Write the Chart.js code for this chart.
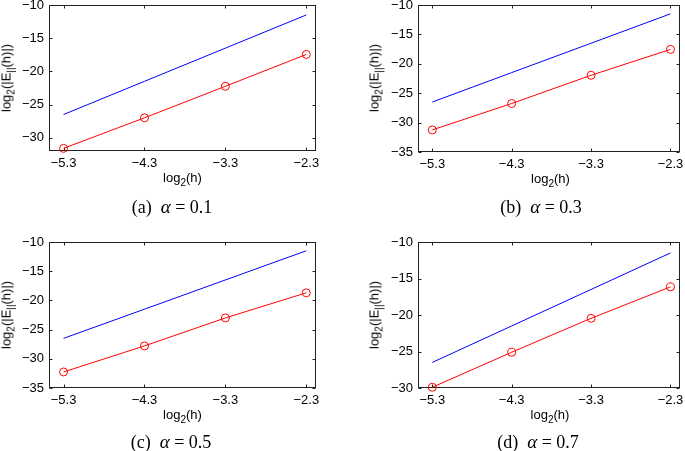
<!DOCTYPE html>
<html lang="en">
<head>
    <meta charset="UTF-8">
    <title>Convergence plots</title>
    <script src="https://cdn.jsdelivr.net/npm/chart.js"></script>
    <style>
        body {
            margin: 0;
            background: #fff;
            font-family: 'Liberation Sans', Arial, sans-serif;
        }
        #wrap {
            position: relative;
            width: 685px;
            height: 451px;
            overflow: hidden;
        }
        canvas {
            position: absolute;
        }
        .xlab, .ylab, .cap {
            position: absolute;
            white-space: nowrap;
            color: #000;
            line-height: 1;
        }
        .xlab, .ylab {
            font-size: 13px;
            transform: translate(-50%, -50%);
        }
        .ylab {
            transform: translate(-50%, -50%) rotate(-90deg);
        }
        .xlab sub, .ylab sub {
            font-size: 10px;
            vertical-align: -4px;
        }
        .cap {
            font-family: 'Liberation Serif', 'Times New Roman', serif;
            font-size: 18px;
            transform: translate(-50%, -50%);
        }
        .cap i {
            font-size: 19px;
        }
    </style>
</head>
<body>
<div id="wrap"></div>

<script>
    // x positions (log2 h) and tick labels
    const hLog = [-5.3, -4.3, -3.3, -2.3];
    const xTicks = [-5.3, -4.3, -3.3, -2.3];
    const xMin = -5.48;
    const xMax = -2.18;

    // reference slope line (blue)
    const refLine = [-26.5, -21.5, -16.5, -11.5];

    // log2 error for each alpha (red circles)
    const errA = [-31.6, -27.0, -22.25, -17.45];
    const errB = [-31.25, -26.75, -21.95, -17.55];
    const errC = [-32.25, -27.8, -23.0, -18.7];
    const errD = [-29.9, -25.1, -20.45, -16.15];

    const alphas = ['0.1', '0.3', '0.5', '0.7'];
    const letters = ['a', 'b', 'c', 'd'];
    const yRanges = [[-32, -10], [-35, -10], [-35, -10], [-30, -10]];

    // panel layout: canvas origin and plot box inside it
    const panels = [
        { err: errA, cx: 0,   cy: 0,   box: [49, 4, 316, 151],  capX: 172, capY: 206 },
        { err: errB, cx: 345, cy: 0,   box: [73, 4, 338, 152],  capX: 541, capY: 206 },
        { err: errC, cx: 0,   cy: 225, box: [49, 17, 316, 163], capX: 171, capY: 441 },
        { err: errD, cx: 345, cy: 225, box: [73, 17, 337, 163], capX: 538, capY: 441 }
    ];

    const W = 340, H = 190;
    const wrap = document.getElementById('wrap');
    const tickFont = { family: "'Liberation Sans', Arial, sans-serif", size: 13 };

    // box around plot area + small inward ticks (matlab style)
    const boxPlugin = {
        id: 'boxTicks',
        beforeDatasetsDraw(chart) {
            const ctx = chart.ctx;
            const a = chart.chartArea;
            const xs = chart.scales.x, ys = chart.scales.y;
            const L = Math.round(a.left) + 0.5, R = Math.round(a.right) - 0.5;
            const T = Math.round(a.top) + 0.5, B = Math.round(a.bottom) - 0.5;
            ctx.save();
            ctx.strokeStyle = '#222';
            ctx.lineWidth = 1;
            ctx.strokeRect(L, T, R - L, B - T);
            ctx.beginPath();
            xs.ticks.forEach(t => {
                const px = Math.round(xs.getPixelForValue(t.value)) + 0.5;
                ctx.moveTo(px, B); ctx.lineTo(px, B - 3);
                ctx.moveTo(px, T); ctx.lineTo(px, T + 3);
            });
            ys.ticks.forEach(t => {
                const py = Math.round(ys.getPixelForValue(t.value)) + 0.5;
                ctx.moveTo(L, py); ctx.lineTo(L + 3, py);
                ctx.moveTo(R, py); ctx.lineTo(R - 3, py);
            });
            ctx.stroke();
            ctx.restore();
        }
    };

    panels.forEach((p, i) => {
        const cv = document.createElement('canvas');
        cv.width = W; cv.height = H;
        cv.style.left = p.cx + 'px';
        cv.style.top = p.cy + 'px';
        cv.style.width = W + 'px';
        cv.style.height = H + 'px';
        wrap.appendChild(cv);

        const [bl, bt, br, bb] = p.box;
        const yMin = yRanges[i][0], yMax = yRanges[i][1];

        new Chart(cv.getContext('2d'), {
            type: 'line',
            data: {
                datasets: [
                    {
                        data: hLog.map((x, k) => ({ x: x, y: refLine[k] })),
                        borderColor: '#0000ff',
                        borderWidth: 1,
                        pointRadius: 0,
                        fill: false,
                        clip: false
                    },
                    {
                        data: hLog.map((x, k) => ({ x: x, y: p.err[k] })),
                        borderColor: '#ff0000',
                        borderWidth: 1,
                        pointRadius: 4,
                        pointStyle: 'circle',
                        pointBorderColor: '#ff0000',
                        pointBackgroundColor: 'rgba(0,0,0,0)',
                        pointBorderWidth: 1,
                        fill: false,
                        clip: false
                    }
                ]
            },
            options: {
                responsive: false,
                animation: false,
                events: [],
                layout: { padding: { top: bt, right: W - br, left: 0, bottom: 0 } },
                plugins: { legend: { display: false }, tooltip: { enabled: false } },
                scales: {
                    x: {
                        type: 'linear',
                        min: xMin,
                        max: xMax,
                        afterBuildTicks: s => { s.ticks = xTicks.map(v => ({ value: v })); },
                        afterFit: s => {
                            s.height = H - bb;
                            s.paddingLeft = 0; s.paddingRight = 0;
                        },
                        grid: { display: false, drawTicks: false },
                        border: { display: false },
                        ticks: {
                            padding: 5,
                            color: '#000',
                            maxRotation: 0,
                            autoSkip: false,
                            font: tickFont,
                            callback: v => String(v.toFixed(1)).replace('-', '\u2212')
                        }
                    },
                    y: {
                        type: 'linear',
                        min: yMin,
                        max: yMax,
                        afterBuildTicks: s => {
                            const t = [];
                            for (let v = Math.ceil(yMin / 5) * 5; v <= yMax; v += 5) t.push({ value: v });
                            s.ticks = t;
                        },
                        afterFit: s => {
                            s.width = bl;
                            s.paddingTop = 0; s.paddingBottom = 0;
                        },
                        grid: { display: false, drawTicks: false },
                        border: { display: false },
                        ticks: {
                            padding: 5,
                            color: '#000',
                            font: tickFont,
                            callback: v => String(v).replace('-', '\u2212')
                        }
                    }
                }
            },
            plugins: [boxPlugin]
        });

        // axis titles and caption as html text
        const midX = p.cx + (bl + br) / 2;
        const midY = p.cy + (bt + bb) / 2;

        const xl = document.createElement('div');
        xl.className = 'xlab';
        xl.innerHTML = 'log<sub>2</sub>(h)';
        xl.style.left = midX + 'px';
        xl.style.top = (p.cy + bb + 28) + 'px';
        wrap.appendChild(xl);

        const yl = document.createElement('div');
        yl.className = 'ylab';
        yl.innerHTML = 'log<sub>2</sub>(|E<sub>||</sub>(h)|)';
        yl.style.left = (p.cx + (i % 2 === 0 ? 8 : 31)) + 'px';
        yl.style.top = midY + 'px';
        wrap.appendChild(yl);

        const cap = document.createElement('div');
        cap.className = 'cap';
        cap.innerHTML = '(' + letters[i] + ')&nbsp;&nbsp;<i>\u03b1</i> = ' + alphas[i];
        cap.style.left = p.capX + 'px';
        cap.style.top = p.capY + 'px';
        wrap.appendChild(cap);
    });
</script>
</body>
</html>
